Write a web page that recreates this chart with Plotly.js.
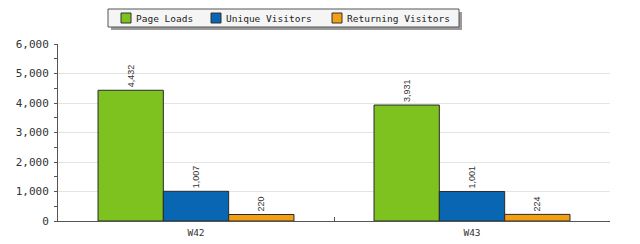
<!DOCTYPE html>
<html><head><meta charset="utf-8">
<script src="https://cdn.plot.ly/plotly-3.0.1.min.js"></script>
<style>html,body{margin:0;padding:0;background:#fff;}#chart{width:640px;height:244px;}</style>
</head><body><div id="chart"></div>
<script>
const categories = ["W42", "W43"];
const seriesNames = ["Page Loads", "Unique Visitors", "Returning Visitors"];
const pageLoads = [4432, 3931];
const uniqueVisitors = [1007, 1001];
const returningVisitors = [220, 224];
const yTicks = [0, 1000, 2000, 3000, 4000, 5000, 6000];
const colors = ["#7dc21f", "#0866b2", "#f29f11"];

const values = [pageLoads, uniqueVisitors, returningVisitors];
const traces = values.map((v, i) => ({
  type: "bar", name: seriesNames[i], x: categories, y: v,
  marker: {color: colors[i], line: {color: "#2a2a2a", width: 1}},
  text: v.map(n => n.toLocaleString("en-US")),
  textposition: "outside", textangle: -90, cliponaxis: false,
  textfont: {family: "Liberation Sans, Arial, sans-serif", size: 9, color: "#333"},
  hoverinfo: "skip", showlegend: false
}));

// custom legend (box with drop shadow) laid out in pixel space of the figure
const M = {l: 58, r: 30, t: 44, b: 23}, W = 640, H = 244;
const pw = W - M.l - M.r, ph = H - M.t - M.b;
const px = p => (p - M.l) / pw;
const py = p => (H - M.b - p) / ph;
const legBox = {x0: 108, x1: 459, y0: 9, y1: 27};
const swatchX = [121, 211, 332];
const shapes = [
  {type: "rect", xref: "paper", yref: "paper", x0: px(legBox.x0 + 3), x1: px(legBox.x1 + 3),
   y0: py(legBox.y1 + 3), y1: py(legBox.y0 + 3), fillcolor: "#9a9a9a", line: {width: 0}},
  {type: "rect", xref: "paper", yref: "paper", x0: px(legBox.x0), x1: px(legBox.x1),
   y0: py(legBox.y1), y1: py(legBox.y0), fillcolor: "#f5f5f5", line: {color: "#555", width: 1}}
];
const annotations = [];
seriesNames.forEach((name, i) => {
  shapes.push({type: "rect", xref: "paper", yref: "paper", x0: px(swatchX[i]), x1: px(swatchX[i] + 10),
    y0: py(23), y1: py(13), fillcolor: colors[i], line: {color: "#333", width: 1}});
  annotations.push({xref: "paper", yref: "paper", x: px(swatchX[i] + 13), y: py(18.5),
    xanchor: "left", yanchor: "middle", showarrow: false, text: name,
    font: {family: "DejaVu Sans Mono, monospace", size: 9.5, color: "#222"}});
});

const layout = {
  width: W, height: H, margin: M,
  paper_bgcolor: "#fff", plot_bgcolor: "#fff",
  barmode: "group", bargap: 0.29, bargroupgap: 0,
  showlegend: false,
  xaxis: {type: "category", showline: true, linecolor: "#555", linewidth: 1,
    tickson: "boundaries", ticks: "inside", ticklen: 4, tickcolor: "#555",
    showgrid: false, zeroline: false, ticklabelstandoff: 3,
    tickfont: {family: "DejaVu Sans Mono, monospace", size: 9.5, color: "#333"}},
  yaxis: {range: [0, 6000], tickvals: yTicks, ticktext: yTicks.map(n => n.toLocaleString("en-US")),
    showline: true, linecolor: "#555", linewidth: 1,
    ticks: "outside", ticklen: 3, tickcolor: "#555", ticklabelstandoff: 3,
    minor: {ticks: "outside", ticklen: 3, dtick: 500, tickcolor: "#555", showgrid: false},
    showgrid: true, gridcolor: "#e4e4e4", gridwidth: 1, zeroline: false,
    tickfont: {family: "DejaVu Sans Mono, monospace", size: 11, color: "#333"}},
  shapes: shapes, annotations: annotations
};
Plotly.newPlot("chart", traces, layout, {staticPlot: true});
</script></body></html>
